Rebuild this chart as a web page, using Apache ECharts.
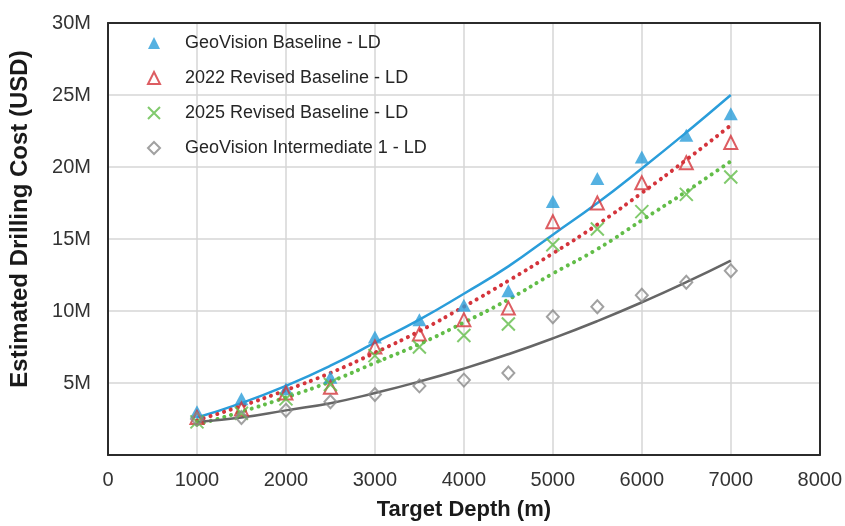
<!DOCTYPE html>
<html>
<head>
<meta charset="utf-8">
<script src="https://cdn.jsdelivr.net/npm/echarts@6/dist/echarts.min.js"></script>
<style>html,body{margin:0;padding:0;background:#fff}#c{width:845px;height:526px}</style>
</head>
<body>
<div id="c"></div>
<script>
// Data (cost in millions USD)
const depths = [1000,1500,2000,2500,3000,3500,4000,4500,5000,5500,6000,6500,7000];
const geoBaseline   = [3.0, 3.9, 4.6, 5.4, 8.2, 9.4, 10.4, 11.4, 17.6, 19.2, 20.7, 22.2, 23.7];
const rev2022       = [2.6, 3.2, 4.3, 4.7, 7.5, 8.4, 9.4, 10.2, 16.2, 17.5, 18.9, 20.3, 21.7];
const rev2025       = [2.3, 2.9, 3.9, 4.9, 6.9, 7.5, 8.3, 9.1, 14.6, 15.7, 16.9, 18.1, 19.3];
const geoInter1     = [2.5, 2.6, 3.1, 3.7, 4.2, 4.8, 5.2, 5.7, 9.6, 10.3, 11.1, 12.0, 12.8];
// Trend lines
const trendGeoBaseline = [2.6, 3.6, 4.8, 6.2, 7.8, 9.4, 11.2, 13.1, 15.3, 17.5, 19.9, 22.4, 25.0];
const trend2022        = [2.4, 3.4, 4.5, 5.7, 7.1, 8.6, 10.3, 12.1, 14.0, 16.0, 18.2, 20.5, 22.9];
const trend2025        = [2.1, 3.0, 4.0, 5.1, 6.4, 7.7, 9.2, 10.8, 12.6, 14.3, 16.3, 18.3, 20.4];
const trendInter1      = [2.3, 2.6, 3.1, 3.6, 4.3, 5.1, 6.0, 7.0, 8.1, 9.3, 10.6, 12.0, 13.5];
const names = ['GeoVision Baseline - LD','2022 Revised Baseline - LD','2025 Revised Baseline - LD','GeoVision Intermediate 1 - LD'];

const pairs = arr => arr.map((v,i)=>[depths[i], v]);
const blue='#2A9DDA', red='#D4343B', green='#62BD48', greyM='#8A8A8A', greyL='#666666';
const font = '"Liberation Sans", Arial, sans-serif';
const frame = {show:true,onZero:false,lineStyle:{color:'#2b2b2b',width:2}};

const chart = echarts.init(document.getElementById('c'));
chart.setOption({
  animation:false,
  backgroundColor:'#fff',
  grid:{left:108,right:25,top:23,bottom:68},
  legend:{
    orient:'vertical', left:142, top:28, itemWidth:12, itemHeight:12, itemGap:15,
    data:names,
    textStyle:{fontFamily:font,fontSize:18,color:'#262626',lineHeight:20,padding:[0,0,0,20]}
  },
  xAxis:[{type:'value',min:0,max:8000,interval:1000,
    axisLine:frame,axisTick:{show:false},
    splitLine:{lineStyle:{color:'#d6d6d6',width:1.5}},
    axisLabel:{fontFamily:font,fontSize:20,color:'#333',margin:15,formatter:v=>String(v)},
    name:'Target Depth (m)',nameLocation:'middle',nameGap:44,
    nameTextStyle:{fontFamily:font,fontSize:22,fontWeight:'bold',color:'#1a1a1a'}},
    {type:'value',position:'top',min:0,max:8000,interval:1000,
    axisLine:frame,axisTick:{show:false},axisLabel:{show:false},splitLine:{show:false}}],
  yAxis:[{type:'value',min:0,max:30,interval:5,
    axisLine:frame,axisTick:{show:false},
    splitLine:{lineStyle:{color:'#d6d6d6',width:1.5}},
    axisLabel:{fontFamily:font,fontSize:20,color:'#333',margin:17,formatter:v=>v===0?'':v+'M'},
    name:'Estimated Drilling Cost (USD)',nameLocation:'middle',nameGap:76,
    nameTextStyle:{fontFamily:font,fontSize:24,fontWeight:'bold',color:'#1a1a1a',padding:[0,0,0,40]}},
    {type:'value',position:'right',min:0,max:30,interval:5,
    axisLine:frame,axisTick:{show:false},axisLabel:{show:false},splitLine:{show:false}}],
  series:[
    {name:'tb',type:'line',data:pairs(trendGeoBaseline),smooth:true,showSymbol:false,z:3,
      lineStyle:{color:blue,width:2.5}},
    {name:'tr',type:'line',data:pairs(trend2022),smooth:true,showSymbol:false,z:3,
      lineStyle:{color:red,width:4,type:[0.1,7],cap:'round'}},
    {name:'tg',type:'line',data:pairs(trend2025),smooth:true,showSymbol:false,z:3,
      lineStyle:{color:green,width:4,type:[0.1,7],cap:'round'}},
    {name:'tgr',type:'line',data:pairs(trendInter1),smooth:true,showSymbol:false,z:3,
      lineStyle:{color:greyL,width:2.5}},
    {name:names[0],type:'scatter',data:pairs(geoBaseline),symbol:'triangle',symbolSize:[14,13],z:4,
      itemStyle:{color:blue}},
    {name:names[1],type:'scatter',data:pairs(rev2022),symbol:'triangle',symbolSize:[13,13],z:4,
      itemStyle:{color:'rgba(255,255,255,0)',borderColor:red,borderWidth:2}},
    {name:names[2],type:'scatter',data:pairs(rev2025),symbol:'path://M0,0L10,10M10,0L0,10',symbolSize:13,z:4,
      itemStyle:{color:'rgba(255,255,255,0)',borderColor:green,borderWidth:2}},
    {name:names[3],type:'scatter',data:pairs(geoInter1),symbol:'diamond',symbolSize:[12,13],z:4,
      itemStyle:{color:'rgba(255,255,255,0)',borderColor:greyM,borderWidth:2}}
  ]
});
</script>
</body>
</html>
